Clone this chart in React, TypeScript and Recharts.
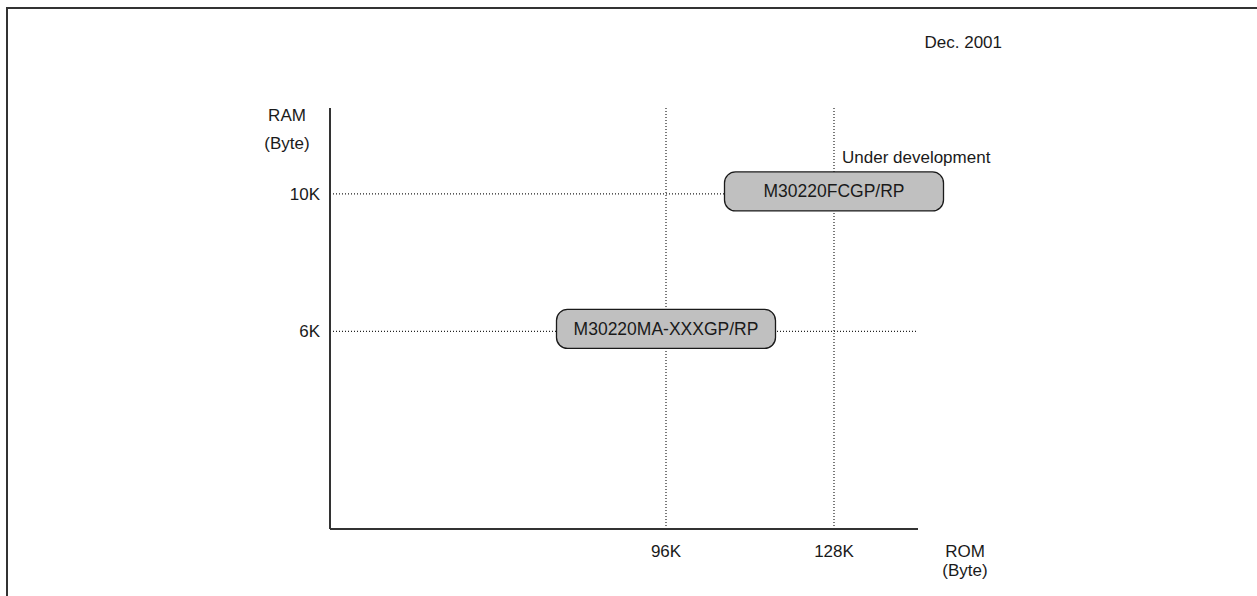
import React from 'react';
import { ScatterChart, Scatter, XAxis, YAxis, ReferenceLine, Customized } from 'recharts';

// ROM size (K bytes) and RAM size (K bytes) of each product
const productNames = ['M30220FCGP/RP', 'M30220MA-XXXGP/RP'];
const romSizes = [128, 96];
const ramSizes = [10, 6];

const romTicks = [96, 128];
const ramTicks = [6, 10];
const romDomain = [32, 144];
const ramDomain = [0.25, 12.5];

const noteText = 'Under development';
const dateText = 'Dec. 2001';
const yTitle = ['RAM', '(Byte)'];
const xTitle = ['ROM', '(Byte)'];

const data = productNames.map((name, i) => ({ name, rom: romSizes[i], ram: ramSizes[i] }));

const FONT = '"Liberation Sans", Arial, sans-serif';
const INK = '#1a1a1a';

const ProductBox = (props: any) => {
  const { cx, cy, payload } = props;
  const w = 219;
  const h = 39;
  return (
    <g>
      <rect x={cx - w / 2} y={cy - h / 2 - 2.5} width={w} height={h} rx={11} ry={11}
        fill="#c0c0c0" stroke={INK} strokeWidth={1.3} />
      <text x={cx} y={cy + 3.5} textAnchor="middle" fontFamily={FONT} fontSize={17.5} fill={INK}>
        {payload.name}
      </text>
    </g>
  );
};

const Annotations = () => (
  <g fontFamily={FONT} fontSize={17} fill={INK}>
    <text x={287} y={121} textAnchor="middle">{yTitle[0]}</text>
    <text x={287} y={149} textAnchor="middle">{yTitle[1]}</text>
    <text x={965} y={557} textAnchor="middle">{xTitle[0]}</text>
    <text x={965} y={576} textAnchor="middle">{xTitle[1]}</text>
    <text x={842} y={163} textAnchor="start">{noteText}</text>
    <text x={1002} y={48} textAnchor="end">{dateText}</text>
  </g>
);

export default function App() {
  return (
    <div style={{ position: 'absolute', left: 0, top: 0, width: 1257, height: 596, overflow: 'hidden', background: '#fff' }}>
      <div style={{ position: 'absolute', left: 6, top: 7, width: 1400, height: 800, border: '2px solid #333', boxSizing: 'border-box' }} />
      <div style={{ position: 'absolute', left: 0, top: 0 }}>
        <ScatterChart width={1257} height={596} margin={{ top: 108, right: 339, bottom: 27, left: 270 }}>
          <XAxis type="number" dataKey="rom" domain={romDomain} ticks={romTicks}
            tickFormatter={(v: number) => `${v}K`} tickLine={false} tickSize={0} tickMargin={16}
            axisLine={{ stroke: '#333', strokeWidth: 2 }}
            tick={{ fill: INK, fontFamily: FONT, fontSize: 17 }} height={40} />
          <YAxis type="number" dataKey="ram" domain={ramDomain} ticks={ramTicks}
            tickFormatter={(v: number) => `${v}K`} tickLine={false} tickSize={0} tickMargin={10}
            axisLine={{ stroke: '#333', strokeWidth: 2 }}
            tick={{ fill: INK, fontFamily: FONT, fontSize: 17 }} width={60} />
          {ramTicks.map((v) => (
            <ReferenceLine key={'h' + v} y={v} stroke="#222" strokeWidth={1.2} strokeDasharray="1 2" />
          ))}
          {romTicks.map((v) => (
            <ReferenceLine key={'v' + v} x={v} stroke="#222" strokeWidth={1.2} strokeDasharray="1 2" />
          ))}
          <Scatter data={data} shape={ProductBox} isAnimationActive={false} />
          <Customized component={Annotations} />
        </ScatterChart>
      </div>
    </div>
  );
}
